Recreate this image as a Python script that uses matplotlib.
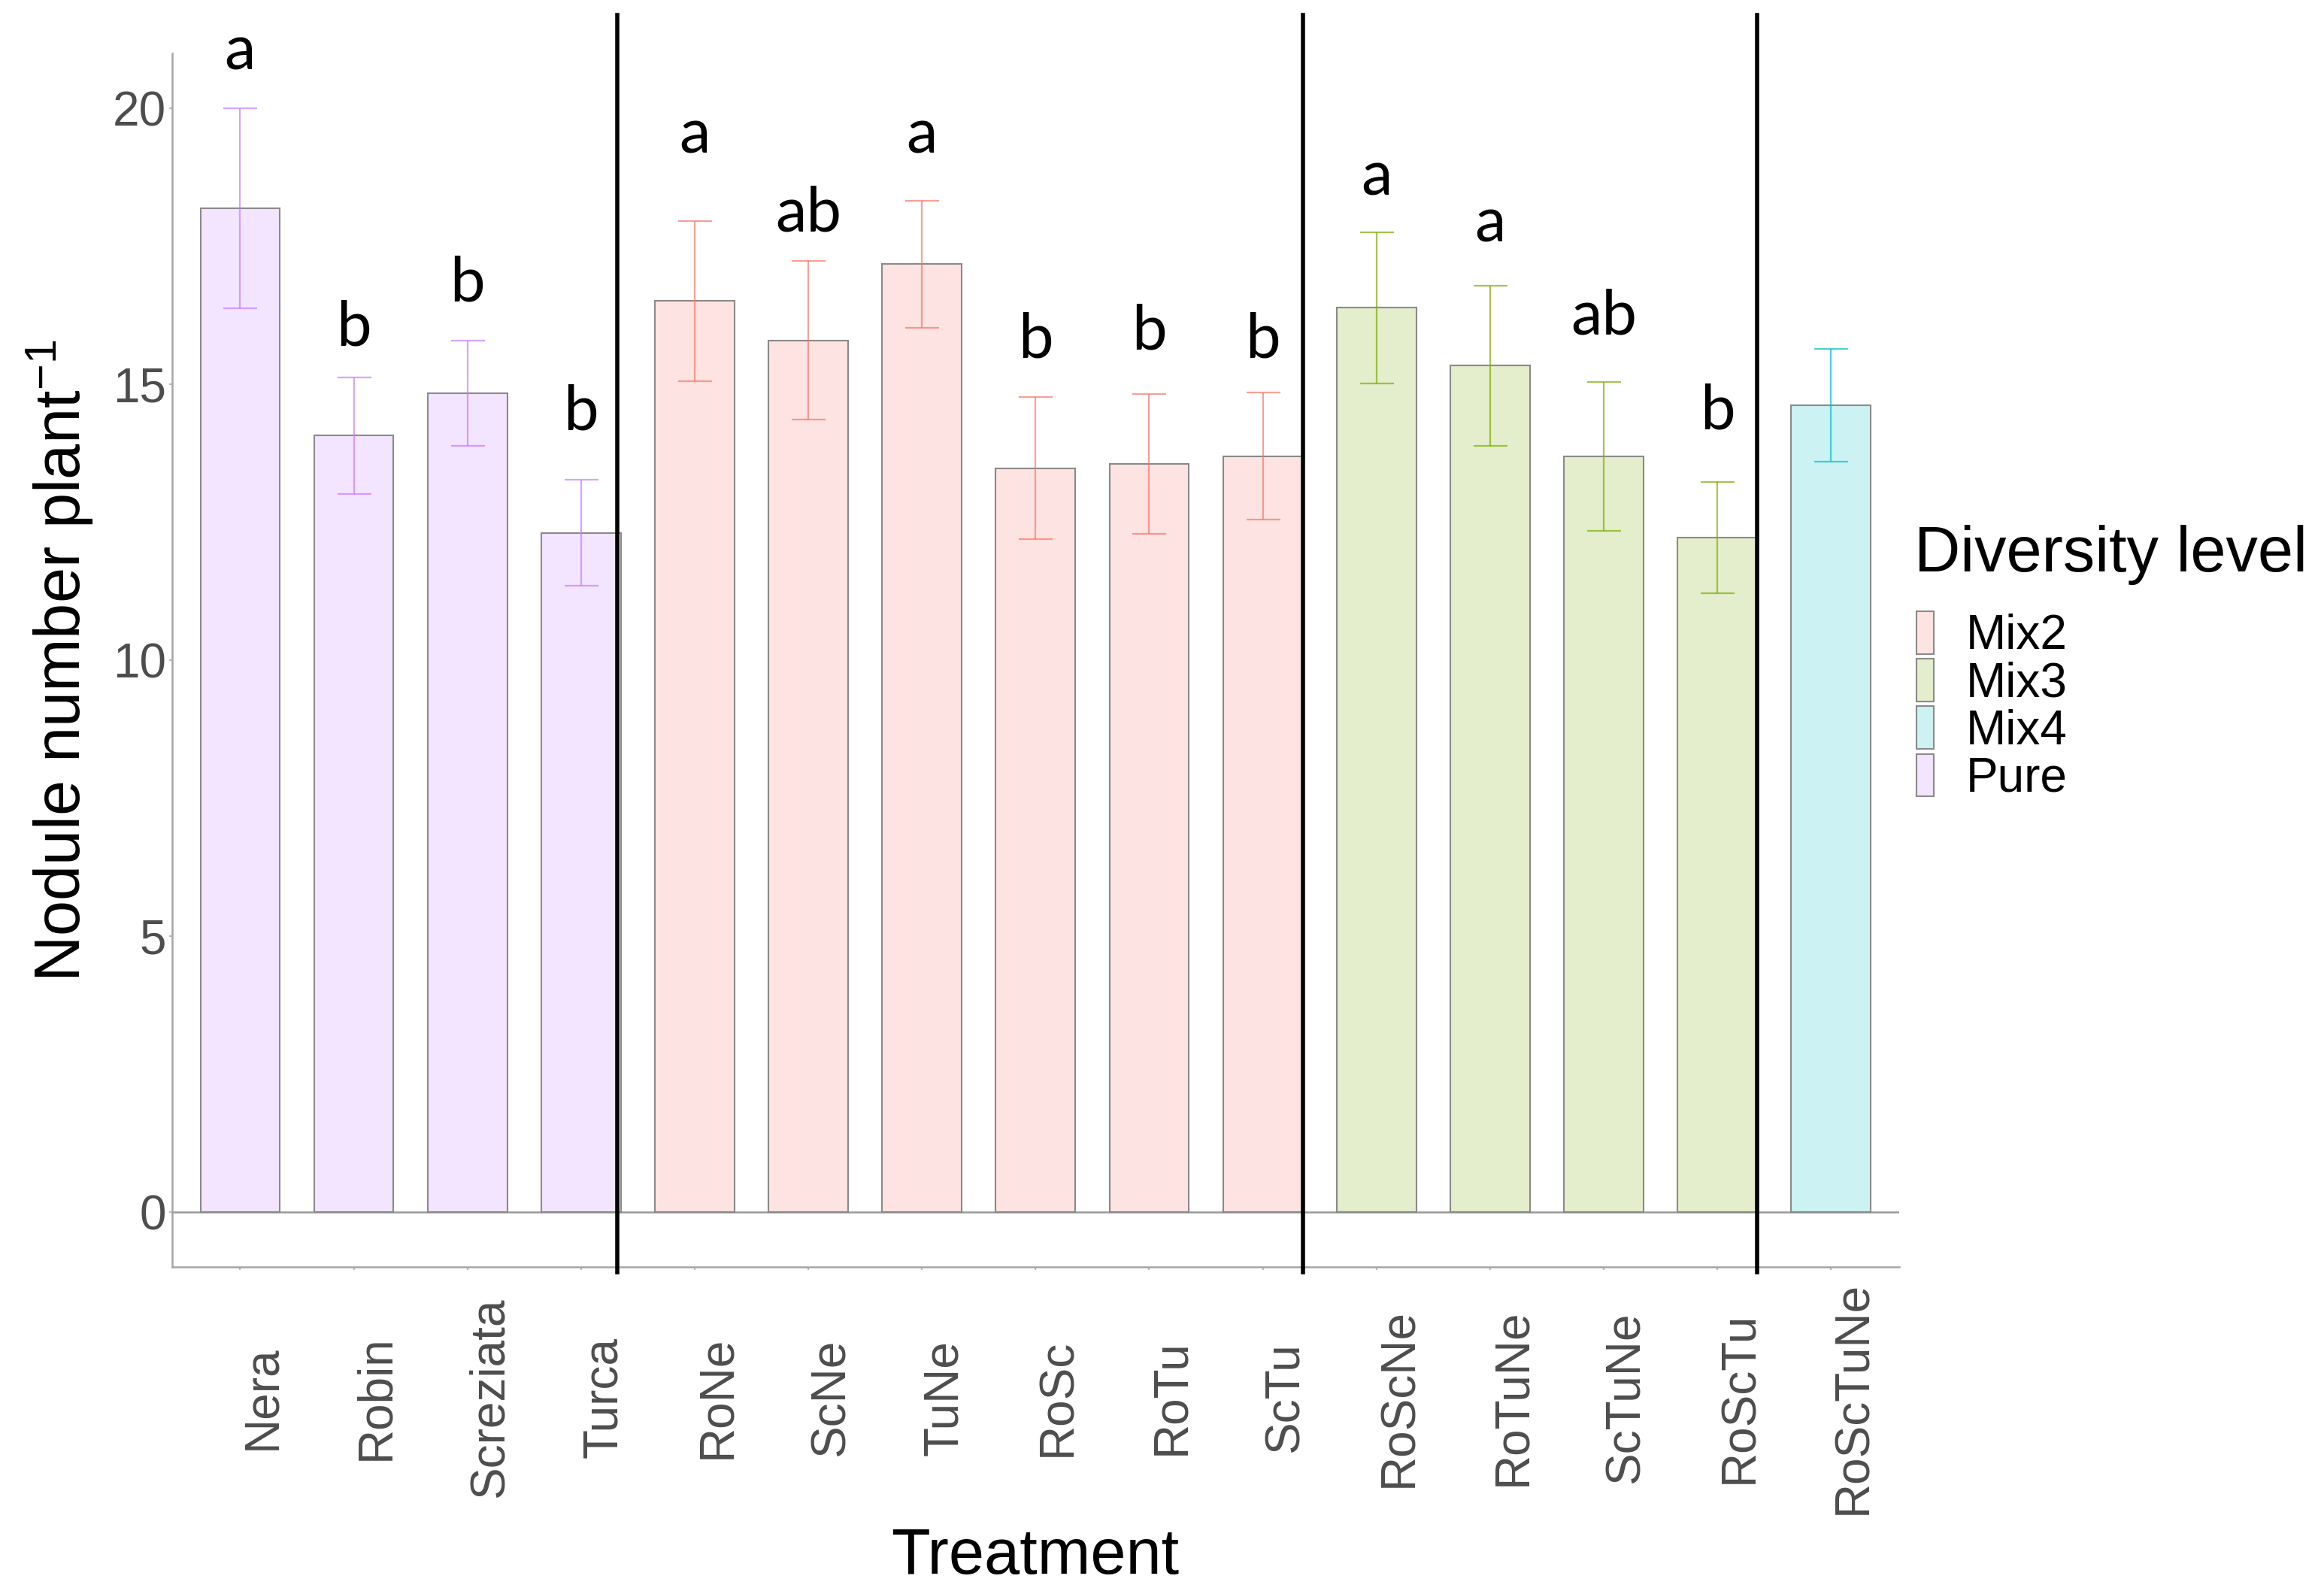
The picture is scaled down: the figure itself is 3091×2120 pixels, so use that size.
import matplotlib.pyplot as plt
from matplotlib.patches import Patch
from matplotlib.colors import to_rgba

plt.rcParams['font.family'] = ['Liberation Sans', 'DejaVu Sans']
plt.rcParams['mathtext.fontset'] = 'custom'
plt.rcParams['mathtext.rm'] = 'Liberation Sans'
plt.rcParams['mathtext.it'] = 'Liberation Sans:italic'

# datos
treatments = ['Nera', 'Robin', 'Screziata', 'Turca', 'RoNe', 'ScNe', 'TuNe', 'RoSc',
              'RoTu', 'ScTu', 'RoScNe', 'RoTuNe', 'ScTuNe', 'RoScTu', 'RoScTuNe']
levels = ['Pure', 'Pure', 'Pure', 'Pure', 'Mix2', 'Mix2', 'Mix2', 'Mix2',
          'Mix2', 'Mix2', 'Mix3', 'Mix3', 'Mix3', 'Mix3', 'Mix4']
means = [18.19, 14.07, 14.84, 12.31, 16.51, 15.80, 17.18, 13.48,
         13.56, 13.70, 16.39, 15.34, 13.70, 12.22, 14.62]
se = [1.81, 1.06, 0.95, 0.96, 1.45, 1.44, 1.15, 1.29,
      1.27, 1.15, 1.37, 1.45, 1.35, 1.01, 1.02]
letters = ['a', 'b', 'b', 'b', 'a', 'ab', 'a', 'b', 'b', 'b', 'a', 'a', 'ab', 'b', '']
letter_y = [20.71, 15.70, 16.51, 14.18, 19.19, 17.78, 19.19, 15.48,
            15.64, 15.48, 18.43, 17.58, 15.91, 14.19, 0]

level_names = ['Mix2', 'Mix3', 'Mix4', 'Pure']
level_colors = ['#F8766D', '#7CAE00', '#00BFC4', '#C77CFF']

# lineas verticales que separan los grupos
breaks = [4.32, 10.35, 14.35]

color_of = dict(zip(level_names, level_colors))
fill_of = {k: to_rgba(c, 0.2) for k, c in color_of.items()}
edge = '#8a8a8a'

fig = plt.figure(figsize=(15.455, 10.6), dpi=200)
ax = fig.add_axes([0.0740, 0.2052, 0.8172 - 0.0740, 0.9665 - 0.2052])

x = list(range(1, len(treatments) + 1))
ax.bar(x, means, width=0.7, color=[fill_of[l] for l in levels], edgecolor=edge,
       linewidth=0.75, zorder=2)
for xi, m, s, l in zip(x, means, se, levels):
    ax.errorbar(xi, m, yerr=s, fmt='none', ecolor=to_rgba(color_of[l], 0.7),
                elinewidth=0.8, capsize=8.1, capthick=0.8, zorder=3)

for xi, t, ly in zip(x, letters, letter_y):
    if t:
        ax.text(xi, ly, t, ha='center', va='baseline', fontsize=30,
                family=['Lato', 'DejaVu Sans'], color='black')

ax.axhline(0, color='#9a9a9a', lw=0.9, zorder=1)
for b in breaks:
    ax.axvline(b, ymin=-0.0043, ymax=1.0316, color='black', lw=2.0,
               clip_on=False, zorder=4)

ax.set_xlim(0.4, 15.6)
ax.set_ylim(-1, 21)
ax.set_yticks([0, 5, 10, 15, 20])
ax.set_xticks(x)
ax.set_xticklabels(treatments, rotation=90, ha='left', va='center')
ax.tick_params(axis='x', length=1.5, pad=61, color='#bbbbbb',
               labelcolor='#4D4D4D', labelsize=23)
ax.tick_params(axis='y', length=1.5, pad=1.2, color='#bbbbbb',
               labelcolor='#4D4D4D', labelsize=23)
for side in ['top', 'right']:
    ax.spines[side].set_visible(False)
for side in ['left', 'bottom']:
    ax.spines[side].set_color('#a6a6a6')
    ax.spines[side].set_linewidth(0.9)

fig.text(0.0346, 0.5854, 'Nodule number plant$^{-1}$', rotation=90,
         rotation_mode='anchor', ha='center', va='baseline', fontsize=30.5)
fig.text(0.4455, 0.01274, 'Treatment', ha='center', va='baseline', fontsize=30.5)

handles = [Patch(facecolor=fill_of[n], edgecolor=edge, linewidth=0.75, label=n)
           for n in level_names]
fig.legend(handles=handles, loc='upper left', bbox_to_anchor=(0.8247, 0.6165),
           frameon=False, fontsize=23, handlelength=0.36, handleheight=0.986,
           labelspacing=0, handletextpad=0.66, borderpad=0, borderaxespad=0)
fig.text(0.8237, 0.6415, 'Diversity level', ha='left', va='baseline', fontsize=30.5)

fig.savefig('out.png', dpi=200)
plt.close()
